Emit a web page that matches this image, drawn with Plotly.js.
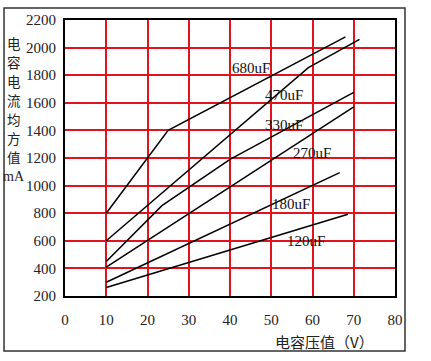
<!DOCTYPE html>
<html>
<head>
<meta charset="utf-8">
<script src="https://cdn.plot.ly/plotly-3.0.1.min.js"></script>
<style>html,body{margin:0;padding:0;background:#fff;}#chart{width:431px;height:361px;}</style>
</head>
<body>
<div id="chart"></div>
<script>
// Series: voltage (V) vs ripple current (mA)
const seriesNames = ["680uF", "470uF", "330uF", "270uF", "180uF", "120uF"];
const x680 = [10, 25, 68];
const y680 = [800, 1400, 2078];
const x470 = [10, 59, 71.4];
const y470 = [600, 1855, 2060];
const x330 = [10, 23.5, 40, 70];
const y330 = [450, 855, 1190, 1675];
const x270 = [10, 70];
const y270 = [410, 1571];
const x180 = [10, 66.6];
const y180 = [300, 1094];
const x120 = [10, 68.6];
const y120 = [262, 792];
// Label anchor positions (data coordinates)
const labelX = [45, 53.2, 53.2, 59.8, 54.8, 58.4];
const labelY = [1852, 1655, 1438, 1237, 869, 598];
const xTicks = [0, 10, 20, 30, 40, 50, 60, 70, 80];
const yTicks = [200, 400, 600, 800, 1000, 1200, 1400, 1600, 1800, 2000, 2200];
const yTitle = ["电", "容", "电", "流", "均", "方", "值", "mA"];
const xTitle = "电容压值（V）";

const xs = [x680, x470, x330, x270, x180, x120];
const ys = [y680, y470, y330, y270, y180, y120];

const serif = "Liberation Serif";
const cjk = "Noto Sans CJK SC";

const traces = xs.map((x, i) => ({
  x: x, y: ys[i], type: "scatter", mode: "lines", name: seriesNames[i],
  line: {color: "#000", width: 1.5}, hoverinfo: "skip"
}));

const annotations = seriesNames.map((n, i) => ({
  x: labelX[i], y: labelY[i], xref: "x", yref: "y", text: n, showarrow: false,
  font: {family: serif, size: 15, color: "#111"}
}));
// vertical title: one character per row
const plotTop = 20, plotH = 276;
yTitle.forEach((ch, i) => {
  const py = 43 + i * 19;
  annotations.push({
    xref: "paper", yref: "paper", x: (14 - 65) / 330, y: (plotTop + plotH - py) / plotH,
    xanchor: "center", yanchor: "middle", text: ch, showarrow: false,
    font: {family: ch === "mA" ? serif : cjk, size: ch === "mA" ? 14 : 13.5, color: "#222"}
  });
});
annotations.push({
  xref: "paper", yref: "paper", x: (324 - 65) / 330, y: (plotTop + plotH - 341) / plotH,
  xanchor: "center", yanchor: "middle",
  text: xTitle, showarrow: false, font: {family: cjk, size: 15, color: "#222"}
});

const layout = {
  width: 431, height: 361,
  margin: {l: 65, r: 36, t: 20, b: 65},
  paper_bgcolor: "#fff", plot_bgcolor: "#fff",
  showlegend: false,
  xaxis: {
    range: [0, 80], tickvals: xTicks, ticktext: xTicks.map(String),
    showgrid: true, gridcolor: "#e3131e", gridwidth: 2,
    zeroline: false, showline: true, linecolor: "#000", linewidth: 2, mirror: true,
    ticks: "", ticklabelstandoff: 9,
    tickfont: {family: serif, size: 15, color: "#222"}
  },
  yaxis: {
    range: [200, 2200], tickvals: yTicks, ticktext: yTicks.map(String),
    showgrid: true, gridcolor: "#e3131e", gridwidth: 2,
    zeroline: false, showline: true, linecolor: "#000", linewidth: 2, mirror: true,
    ticks: "", ticklabelstandoff: 4,
    tickfont: {family: serif, size: 15, color: "#222"}
  },
  shapes: [{
    type: "rect", xref: "paper", yref: "paper",
    x0: -0.1848, x1: 1.0303, y0: -0.199, y1: 1.0435,
    line: {color: "#333", width: 1.5}, fillcolor: "rgba(0,0,0,0)", layer: "below"
  }],
  annotations: annotations
};

Plotly.newPlot("chart", traces, layout, {staticPlot: true, displayModeBar: false});
</script>
</body>
</html>
